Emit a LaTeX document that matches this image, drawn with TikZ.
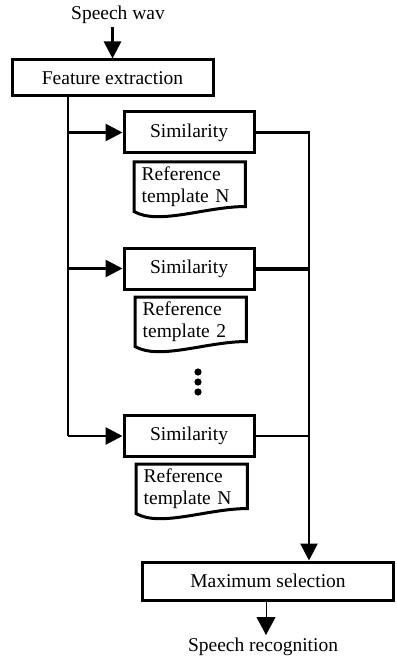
\documentclass[tikz,border=0pt]{standalone}
\usepackage{fontspec}
\setmainfont{Liberation Serif}
\usepackage{tikz}
\usetikzlibrary{arrows.meta}
\usetikzlibrary{positioning,calc}
\tikzset{
    block/.style={
        draw,
        rectangle,
        fill=white,
        line width=3pt,
        inner sep=0pt
    },
    arr/.style={
        line width=2.8pt,
        -{Triangle[length=17pt, width=17pt]}
    }
}

\begin{document}
\begin{tikzpicture}[x=1pt, y=1pt]
  \tikzset{
    every node/.style={font=\fontsize{19.5}{22}\selectfont},
    simbox/.style={
      block,
      minimum width=130pt,
      minimum height=41pt
    },
    tmpl/.style={
      align=left,
      text width=96pt,
      execute at begin node={\rule{0pt}{18pt}},
      minimum width=111pt,
      minimum height=44pt,
      inner sep=0pt
    },
    doc/.style={
      draw,
      line width=3pt,
      line join=miter
    },
    conn/.style={
      line width=2.8pt
    }
  }
  \useasboundingbox (0,0) rectangle (396,-660);

  % Input and feature extraction
  \node (wav) at (118,-15) {Speech wav};
  \node[block, minimum width=201pt, minimum height=36pt] (feat) at (112.5,-78) {Feature extraction};

  % Similarity blocks
  \node[simbox] (sim1) at (189,-132.5) {Similarity};
  \node[simbox] (sim2) at (189,-268.5) {Similarity};
  \node[simbox] (sim3) at (189,-436) {Similarity};

  % Reference templates
  \node[tmpl, anchor=north west] (ref1) at (134,-162) {Reference\\template N};
  \node[tmpl, anchor=north west] (ref2) at (135,-297) {Reference\\template 2};
  \node[tmpl, anchor=north west] (ref3) at (136,-464) {Reference\\template N};
  \foreach \r in {ref1,ref2,ref3}{
    \draw[doc] (\r.south west) -- (\r.north west) -- (\r.north east) -- (\r.south east)
      .. controls +(-40,0) and +(25,-14) .. ($(\r.south west)+(0,-5)$) -- cycle;
  }

  % Dots
  \foreach \y in {-372,-382,-392}
    \fill (198,\y) circle (3.6pt);

  % Output
  \node[block, minimum width=251pt, minimum height=38pt] (maxsel) at (268,-581) {Maximum selection};
  \node (recog) at (263,-647) {Speech recognition};

  % Helper columns
  \coordinate (trunk) at (68,0);
  \coordinate (bus) at (309,0);

  % Connectors
  \draw[arr] (wav.south -| feat.north) -- (feat.north);
  \draw[conn] (feat.south -| trunk) -- (trunk |- sim3.west);
  \draw[arr] (trunk |- sim1.west) -- (sim1.west);
  \draw[arr] (trunk |- sim2.west) -- (sim2.west);
  \draw[arr] (trunk |- sim3.west) -- (sim3.west);

  \draw[arr] (sim1.east) -| (bus |- maxsel.north);
  \draw[conn, line width=4pt] (sim2.east) -- (sim2.east -| bus);
  \draw[conn] (sim3.east) -- (sim3.east -| bus);

  \draw[line width=1pt, -{Triangle[length=18pt, width=19pt]}] (maxsel.south -| 266,0) -- (266,-635);
\end{tikzpicture}
\end{document}
